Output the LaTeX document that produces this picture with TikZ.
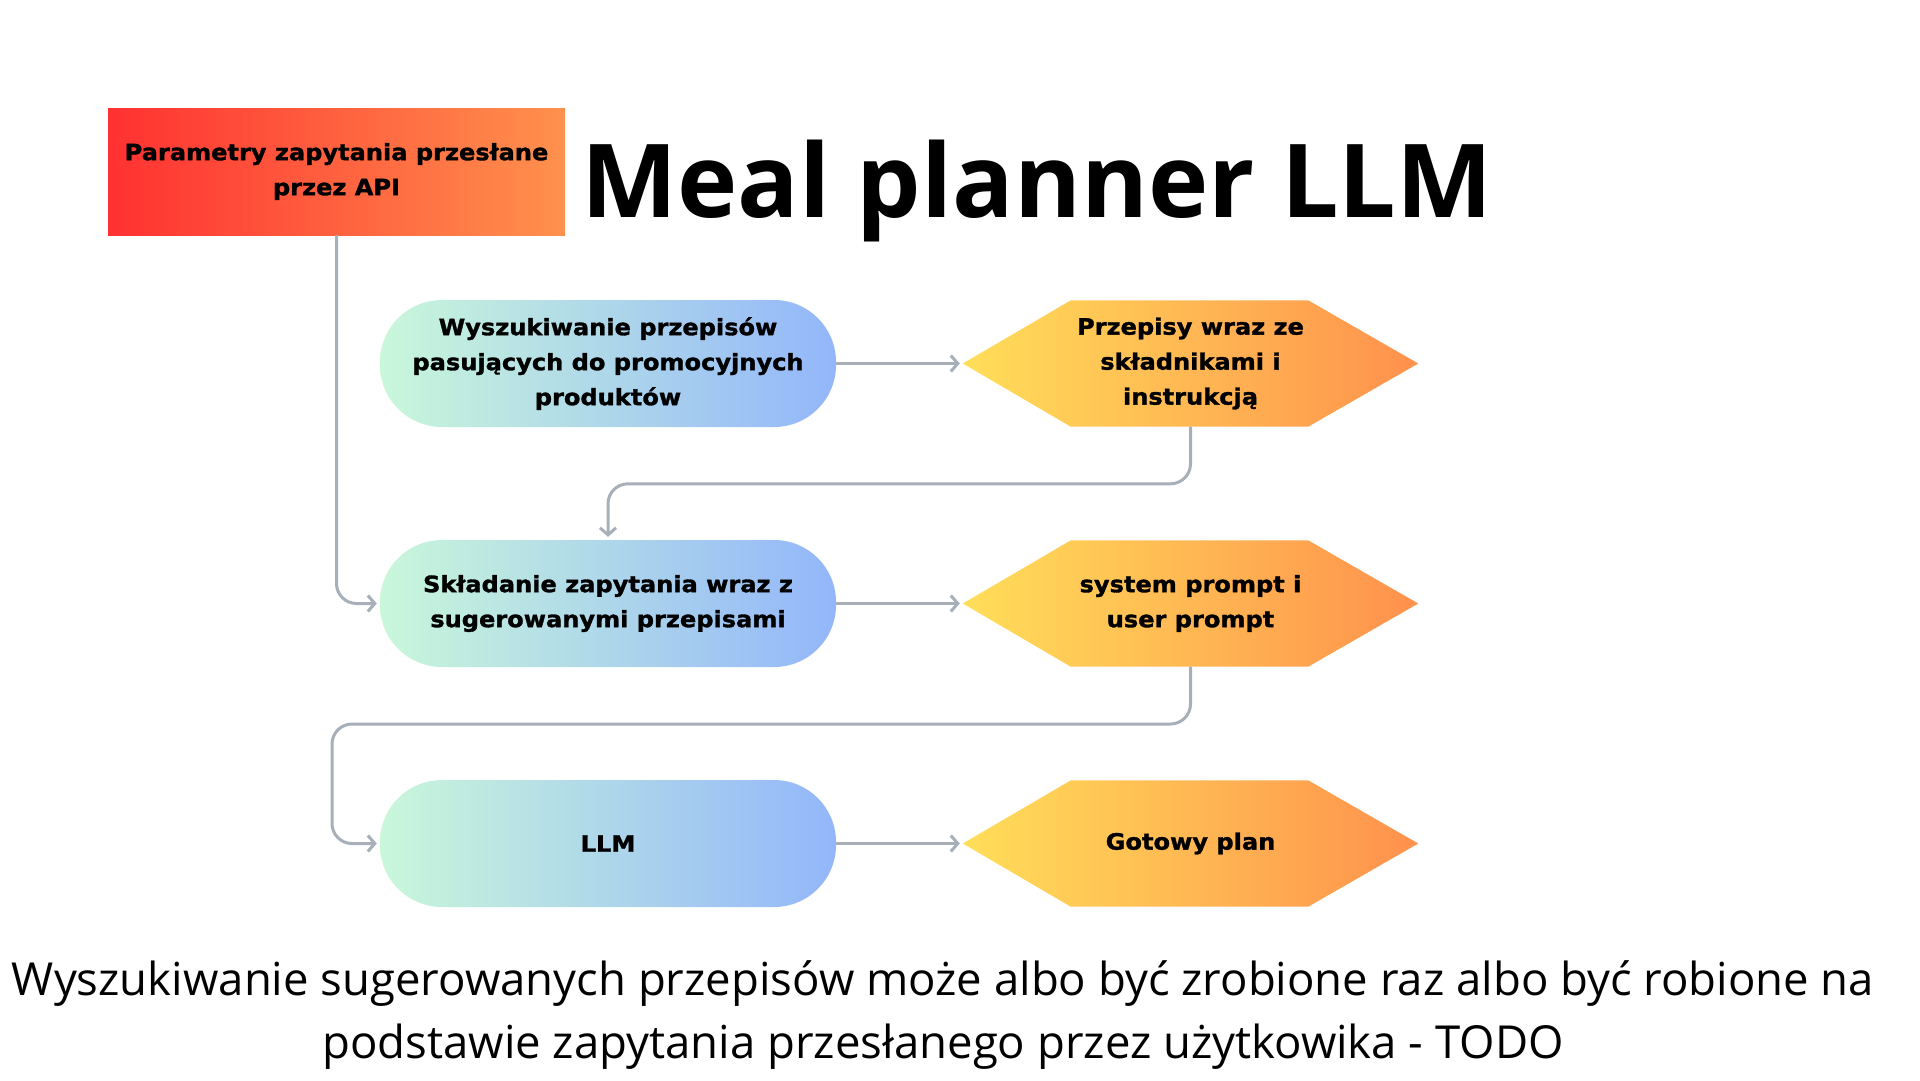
\documentclass[tikz,border=0pt]{standalone}
\usepackage{fontspec}
\setmainfont{Open Sans}
\newfontfamily\boxfont{DejaVu Sans}[BoldFeatures={FakeBold=1.4, FakeStretch=1.07}]
\usetikzlibrary{arrows.meta,calc,backgrounds}

\definecolor{redA}{HTML}{FF3131}
\definecolor{orangeA}{HTML}{FF914D}
\definecolor{yellowA}{HTML}{FFDE59}
\definecolor{mintA}{HTML}{C9F7DA}
\definecolor{blueA}{HTML}{93B6FA}
\definecolor{wire}{HTML}{A7B0B8}

\tikzset{
  boxtext/.style={font=\boxfont\bfseries\fontsize{22.5}{35}\selectfont, text=black, align=center, inner sep=0pt},
  apibox/.style={boxtext, minimum width=457pt, minimum height=127pt, left color=redA, right color=orangeA},
  pill/.style={boxtext, rounded corners=62pt, minimum width=456pt, minimum height=127pt, left color=mintA, right color=blueA},
  hexbox/.style={boxtext, minimum width=455pt, minimum height=126pt},
  hexfill/.style={left color=yellowA, right color=orangeA},
  wireline/.style={draw=wire, line width=3pt, rounded corners=20pt, -{Straight Barb[length=7pt,width=16pt]}, shorten >=3pt},
  titletext/.style={font=\bfseries\fontsize{102}{110}\selectfont, inner sep=0pt},
  notetext/.style={font=\fontsize{45.5}{50}\selectfont, inner sep=0pt},
}

\begin{document}
\begin{tikzpicture}[x=1pt, y=-1pt]
  \useasboundingbox (0,0) rectangle (1920,1080);

  % header
  \node[apibox] (api) at (336.5,171.5) {Parametry zapytania przesłane\\przez API};
  \node[titletext, anchor=base] (title) at (1037,217) {Meal planner LLM};

  % left column: processing steps
  \node[pill] (p1) at (608,363.5) {Wyszukiwanie przepisów\\pasujących do promocyjnych\\produktów};
  \node[pill] (p2) at (608,603.5) {Składanie zapytania wraz z\\sugerowanymi przepisami};
  \node[pill] (p3) at (608,843.5) {LLM};

  % right column: results
  \node[hexbox] (h1) at (1190.5,363.5) {Przepisy wraz ze\\składnikami i\\instrukcją};
  \node[hexbox] (h2) at (1190.5,603.5) {system prompt i\\user prompt};
  \node[hexbox] (h3) at (1190.5,843.5) {Gotowy plan};

  \begin{pgfonlayer}{background}
    \fill[white] (0,0) rectangle (1920,1080);
    \foreach \h in {h1,h2,h3}{
      \path[hexfill] (\h.west) -- ([xshift=108pt]\h.north west) -- ([xshift=-110pt]\h.north east)
        -- (\h.east) -- ([xshift=-110pt]\h.south east) -- ([xshift=108pt]\h.south west) -- cycle;
    }
  \end{pgfonlayer}

  % connectors
  \draw[wireline] (api.south) |- (p2.west);
  \draw[wireline] (p1.east) -- (h1.west);
  \draw[wireline] (h1.south) |- ($(p2.north)+(0,-56)$) -- (p2.north);
  \draw[wireline] (p2.east) -- (h2.west);
  \coordinate (bend) at (332,724);
  \draw[wireline] (h2.south) |- (bend) |- (p3.west);
  \draw[wireline] (p3.east) -- (h3.west);

  % footnote
  \node[notetext, anchor=base] (note1) at (943,995) {Wyszukiwanie sugerowanych przepisów może albo być zrobione raz albo być robione na};
  \node[notetext, anchor=base] (note2) at (943,1058) {podstawie zapytania przesłanego przez użytkowika - TODO};
\end{tikzpicture}
\end{document}
